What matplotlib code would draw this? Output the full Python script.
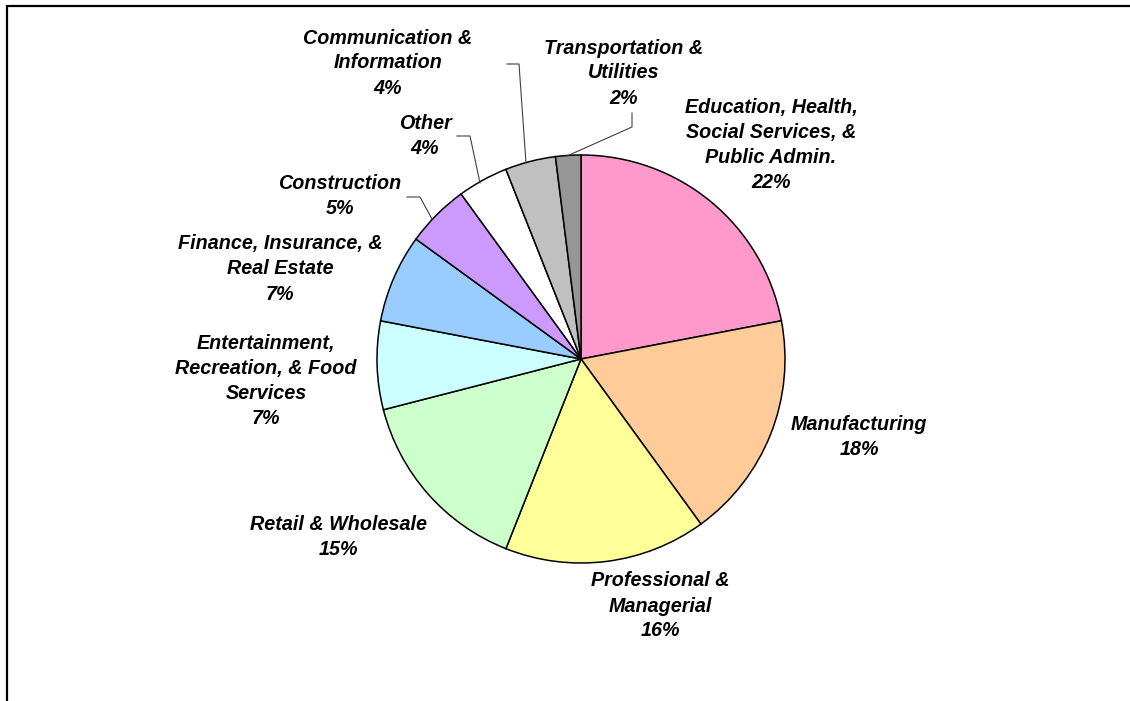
import matplotlib.pyplot as plt
from matplotlib.lines import Line2D

# Employment share by industry
industries = [
    'Education, Health,\nSocial Services, &\nPublic Admin.',
    'Manufacturing',
    'Professional &\nManagerial',
    'Retail & Wholesale',
    'Entertainment,\nRecreation, & Food\nServices',
    'Finance, Insurance, &\nReal Estate',
    'Construction',
    'Other',
    'Communication &\nInformation',
    'Transportation &\nUtilities',
]
shares = [22, 18, 16, 15, 7, 7, 5, 4, 4, 2]
colors = ['#FF99CC', '#FFCC99', '#FFFF99', '#CCFFCC', '#CCFFFF',
          '#99CCFF', '#CC99FF', '#FFFFFF', '#C0C0C0', '#969696']

W, H = 1130, 701


def py(y):
    # pixel rows counted from the top
    return H - y


# label centres (pixels from top-left)
label_pos = [(771, 145), (859, 437), (660, 606), (338, 537), (266, 381),
             (280, 269), (340, 196), (425, 136), (388, 63), (624, 73)]

# leader lines for the small slices
leaders = {
    6: [(407, 197), (420, 197), (432, 219)],
    7: [(457, 136), (470, 136), (480, 183)],
    8: [(507, 64), (519, 64), (526, 163)],
    9: [(632, 113), (632, 127), (567, 156)],
}

fig = plt.figure(figsize=(W / 100, H / 100), dpi=100)
ax = fig.add_axes([0, 0, 1, 1])

ax.pie(shares, colors=colors, startangle=90, counterclock=False,
       center=(581, py(359)), radius=204,
       wedgeprops=dict(edgecolor='black', linewidth=1.1))

ax.set_xlim(0, W)
ax.set_ylim(0, H)
ax.set_aspect('equal')
ax.axis('off')

for name, pct, (x, y) in zip(industries, shares, label_pos):
    ax.text(x, py(y), f'{name}\n{pct}%', ha='center', va='center',
            family='Liberation Sans', fontsize=14.2, fontweight='bold',
            fontstyle='italic', linespacing=1.4)

for i, pts in leaders.items():
    xs = [p[0] for p in pts]
    ys = [py(p[1]) for p in pts]
    ax.add_line(Line2D(xs, ys, color='#404040', linewidth=0.8))

# chart frame (only top and left edges fall inside the image)
ax.add_line(Line2D([7, 7, W + 5], [-5, py(6), py(6)], color='black',
                   linewidth=1.6, solid_joinstyle='miter'))

fig.savefig('out.png', dpi=100)
